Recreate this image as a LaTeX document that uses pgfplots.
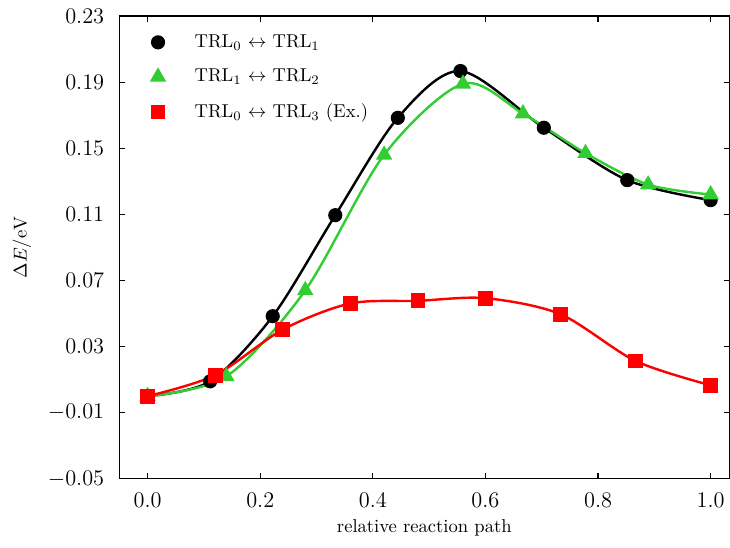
\documentclass[border=0pt]{standalone}
\usepackage{pgfplots}
\pgfplotsset{compat=1.18}
\definecolor{tgreen}{RGB}{50,205,50}
\definecolor{tred}{RGB}{255,0,0}
\begin{document}
\begin{tikzpicture}
\begin{axis}[
  name=ax,
  scale only axis,
  width=328pt, height=248.8pt,
  xmin=-0.0504, xmax=1.0334,
  ymin=-0.05, ymax=0.23,
  xtick={0,0.2,0.4,0.6,0.8,1.0},
  ytick={-0.05,-0.01,0.03,0.07,0.11,0.15,0.19,0.23},
  xticklabel style={/pgf/number format/fixed, /pgf/number format/fixed zerofill, /pgf/number format/precision=1, font=\fontsize{12.5}{15}\selectfont, yshift=-4.2pt},
  yticklabel style={/pgf/number format/fixed, /pgf/number format/fixed zerofill, /pgf/number format/precision=2, font=\fontsize{12.5}{15}\selectfont, xshift=-4.6pt},
  tick align=inside,
  major tick length=3.2pt,
  tick style={black, line width=0.6pt},
  axis line style={line width=0.6pt},
  xlabel={relative reaction path},
  ylabel={$\Delta E/\mathrm{eV}$},
  xlabel style={at={(axis description cs:0.5,-0.1166)}, anchor=base, font=\fontsize{10}{12}\selectfont},
  ylabel style={at={(axis description cs:-0.1595,0.5)}, anchor=center, font=\fontsize{10}{12}\selectfont},
  legend cell align=left,
  legend image code/.code={\draw[#1] plot coordinates {(8pt,0pt)}; \path (0pt,0pt) (25pt,0pt);},
  legend style={draw=none, fill=none, at={(axis description cs:0.0,1.0)}, anchor=north west, xshift=9pt, yshift=-5.8pt, row sep=6.2pt, font=\fontsize{10}{12}\selectfont},
  every axis plot/.append style={line width=1.3pt, smooth},
]
\addplot[black, mark=*, mark size=3.15pt, mark options={solid}] coordinates {
(0,0.0) (0.1111,0.009) (0.2222,0.0484) (0.3333,0.1095) (0.4444,0.1684) (0.5556,0.1967) (0.7037,0.1624) (0.8519,0.1307) (1.0,0.1186)};
\addlegendentry{TRL$_0$ $\leftrightarrow$ TRL$_1$}
\addplot[tgreen, mark=triangle*, mark size=3.8pt, mark options={solid}] coordinates {
(0,0.0) (0.14,0.012) (0.28,0.064) (0.42,0.146) (0.56,0.189) (0.6667,0.171) (0.7778,0.147) (0.8889,0.128) (1.0,0.122)};
\addlegendentry{TRL$_1$ $\leftrightarrow$ TRL$_2$}
\addplot[tred, mark=square*, mark size=3.3pt, mark options={solid}] coordinates {
(0,0.0) (0.12,0.0127) (0.24,0.0403) (0.36,0.0561) (0.48,0.0577) (0.60,0.0593) (0.7333,0.0496) (0.8667,0.0213) (1.0,0.0066)};
\addlegendentry{TRL$_0$ $\leftrightarrow$ TRL$_3$ (Ex.)}
\end{axis}
\pgfresetboundingbox
\path ([xshift=-64.1pt,yshift=-36.7pt]ax.south west) rectangle ([xshift=0.3pt,yshift=8.6pt]ax.north east);
\end{tikzpicture}
\end{document}
